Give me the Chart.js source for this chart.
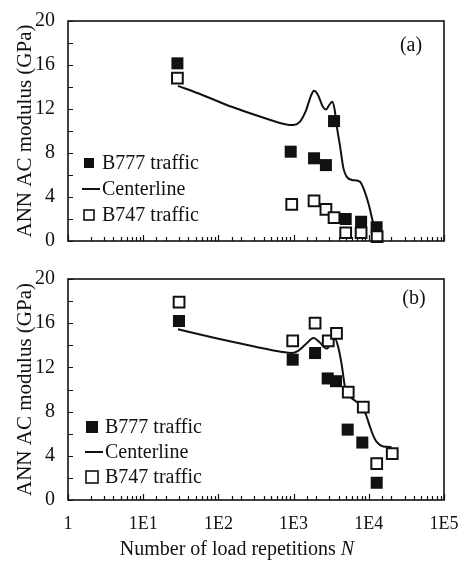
<!DOCTYPE html>
<html>
<head>
<meta charset="utf-8">
<script src="https://cdn.jsdelivr.net/npm/chart.js@4"></script>
<style>
  html, body { margin: 0; padding: 0; background: #fff; }
  #wrap { position: relative; width: 468px; height: 561px; }
  .panel { position: absolute; left: 0; }
</style>
</head>
<body>
<div id="wrap">
  <div class="panel" style="top:0"><canvas id="chart-a" width="468" height="262"></canvas></div>
  <div class="panel" style="top:262px"><canvas id="chart-b" width="468" height="299"></canvas></div>
</div>
<script>
// Panel (a)
const a777N = [28.5, 915, 1870, 2690, 3450, 4930, 7900, 12700];
const a777E = [16.15, 8.12, 7.52, 6.9, 10.9, 2.0, 1.75, 1.25];
const a747N = [28.5, 944, 1870, 2690, 3450, 4930, 7900, 12900];
const a747E = [14.8, 3.34, 3.64, 2.88, 2.12, 0.75, 0.75, 0.39];
const aLineN = [29, 60, 150, 400, 800, 1000, 1200, 1450, 1700, 1870, 2100, 2450, 2700, 3000, 3270, 3500, 3800, 4150, 4600, 5070, 6000, 7600, 8600, 10000, 11500, 12700];
const aLineE = [14.1, 13.3, 12.2, 11.2, 10.6, 10.55, 10.8, 11.8, 13.2, 13.65, 13.3, 12.2, 11.95, 12.4, 12.65, 12.0, 10.2, 8.6, 6.6, 5.85, 5.55, 5.4, 4.7, 3.3, 1.6, 0.85];

// Panel (b)
const b777N = [29.9, 973, 1930, 2840, 3660, 5240, 8200, 12740];
const b777E = [16.2, 12.7, 13.3, 11.0, 10.75, 6.37, 5.2, 1.56];
const b747N = [30, 973, 1930, 2890, 3720, 5330, 8450, 12740, 20500];
const b747E = [17.9, 14.4, 16.0, 14.4, 15.07, 9.76, 8.4, 3.3, 4.2];
const bLineN = [29, 100, 300, 700, 950, 1150, 1450, 1850, 2200, 2750, 3200, 3550, 3900, 4350, 4800, 5400, 6500, 8300, 9300, 10400, 11500, 12700, 15500, 20000];
const bLineE = [15.45, 14.6, 13.9, 13.4, 13.3, 13.5, 14.1, 14.65, 14.3, 13.7, 14.3, 14.6, 13.9, 12.3, 10.3, 9.5, 9.0, 8.4, 7.6, 6.6, 5.8, 5.25, 4.85, 4.8];

const legendLabels = ['B777 traffic', 'Centerline', 'B747 traffic'];
const yTickValues = [0, 4, 8, 12, 16, 20];

const SERIF = '"Liberation Serif", "Times New Roman", serif';
const INK = '#111';

function toPoints(xs, ys) {
    return xs.map((x, i) => ({ x, y: ys[i] }));
}

function isDecade(v) {
    const l = Math.log10(v);
    return Math.abs(l - Math.round(l)) < 1e-9;
}

// box round the plot area plus inward ticks on the bottom and left axes
const frameTicks = {
    id: 'frameTicks',
    afterDraw(chart) {
        const { ctx, chartArea: a, scales: { x, y } } = chart;
        ctx.save();
        ctx.strokeStyle = INK;
        ctx.lineWidth = 1.2;
        ctx.beginPath();
        x.ticks.forEach(t => {
            const px = Math.round(x.getPixelForValue(t.value)) + 0.5;
            const len = isDecade(t.value) ? 6 : 4;
            ctx.moveTo(px, a.bottom);
            ctx.lineTo(px, a.bottom - len);
        });
        y.ticks.forEach(t => {
            const py = Math.round(y.getPixelForValue(t.value)) + 0.5;
            ctx.moveTo(a.left, py);
            ctx.lineTo(a.left + 5, py);
        });
        ctx.stroke();
        ctx.lineWidth = 1.6;
        ctx.strokeRect(a.left, a.top, a.right - a.left, a.bottom - a.top);
        ctx.restore();
    }
};

// legend drawn inside the plot, plus the (a)/(b) tag and an optional x title
const insideLegend = {
    id: 'insideLegend',
    afterDraw(chart, args, opts) {
        const ctx = chart.ctx;
        ctx.save();
        ctx.fillStyle = INK;
        ctx.strokeStyle = INK;
        ctx.textBaseline = 'middle';
        ctx.font = '20px ' + SERIF;
        opts.order.forEach((di, i) => {
            const ds = chart.data.datasets[di];
            const cy = opts.y + i * opts.gap;
            const s = opts.box;
            if (ds.showLine) {
                ctx.lineWidth = 2;
                ctx.beginPath();
                ctx.moveTo(opts.x - 7, cy);
                ctx.lineTo(opts.x + 11, cy);
                ctx.stroke();
            } else if (ds.pointBackgroundColor === '#fff') {
                ctx.lineWidth = 1.6;
                ctx.strokeRect(opts.x - s / 2, cy - s / 2, s, s);
            } else {
                ctx.fillRect(opts.x - s / 2, cy - s / 2, s, s);
            }
            ctx.fillStyle = INK;
            ctx.textAlign = 'left';
            ctx.fillText(ds.label, opts.x + 13, cy + 1);
        });
        ctx.font = '20px ' + SERIF;
        ctx.textAlign = 'center';
        ctx.fillText(opts.tag, opts.tagX, opts.tagY);
        if (opts.xTitle) {
            const main = 'Number of load repetitions ';
            ctx.font = '20px ' + SERIF;
            const w1 = ctx.measureText(main).width;
            ctx.font = 'italic 20px ' + SERIF;
            const w2 = ctx.measureText('N').width;
            const x0 = opts.xTitleX - (w1 + w2) / 2;
            ctx.textAlign = 'left';
            ctx.font = '20px ' + SERIF;
            ctx.fillText(main, x0, opts.xTitleY);
            ctx.font = 'italic 20px ' + SERIF;
            ctx.fillText('N', x0 + w1, opts.xTitleY);
        }
        ctx.restore();
    }
};

function makePanel(id, lineN, lineE, n777, e777, n747, e747, cfg) {
    const ctx = document.getElementById(id).getContext('2d');
    return new Chart(ctx, {
        type: 'scatter',
        data: {
            datasets: [
                {
                    label: legendLabels[0],
                    data: toPoints(n777, e777),
                    pointStyle: 'rect',
                    pointRadius: 8.5,
                    pointBackgroundColor: INK,
                    pointBorderColor: INK,
                    pointBorderWidth: 0,
                    showLine: false,
                    clip: false,
                    order: 2
                },
                {
                    label: legendLabels[1],
                    data: toPoints(lineN, lineE),
                    showLine: true,
                    borderColor: INK,
                    borderWidth: 2,
                    pointRadius: 0,
                    cubicInterpolationMode: 'monotone',
                    clip: false,
                    order: 3
                },
                {
                    label: legendLabels[2],
                    data: toPoints(n747, e747),
                    pointStyle: 'rect',
                    pointRadius: 7.6,
                    pointBackgroundColor: '#fff',
                    pointBorderColor: INK,
                    pointBorderWidth: 2,
                    showLine: false,
                    clip: false,
                    order: 1
                }
            ]
        },
        options: {
            responsive: false,
            animation: false,
            devicePixelRatio: 1,
            layout: { padding: { top: cfg.padTop, right: 24, bottom: 0, left: 0 } },
            plugins: {
                legend: { display: false },
                tooltip: { enabled: false },
                insideLegend: cfg.legend
            },
            scales: {
                x: {
                    type: 'logarithmic',
                    min: 1,
                    max: 100000,
                    grid: { display: false },
                    border: { display: false },
                    afterFit: s => { s.height = cfg.xHeight; },
                    ticks: {
                        display: cfg.xLabels,
                        autoSkip: false,
                        maxRotation: 0,
                        padding: 5,
                        color: INK,
                        font: { family: SERIF, size: 18 },
                        callback: v => {
                            if (!isDecade(v)) return '';
                            const p = Math.round(Math.log10(v));
                            return p === 0 ? '1' : '1E' + p;
                        }
                    }
                },
                y: {
                    min: 0,
                    max: 20,
                    grid: { display: false },
                    border: { display: false },
                    afterFit: s => { s.width = 68; },
                    ticks: {
                        stepSize: 2,
                        autoSkip: false,
                        padding: 5,
                        color: INK,
                        font: { family: SERIF, size: 20 },
                        callback: v => (yTickValues.includes(v) ? String(v) : '')
                    },
                    title: {
                        display: true,
                        text: 'ANN AC modulus (GPa)',
                        color: INK,
                        font: { family: SERIF, size: 21 },
                        padding: { top: 13, bottom: 0 }
                    }
                }
            }
        },
        plugins: [frameTicks, insideLegend]
    });
}

document.addEventListener('DOMContentLoaded', () => {
    makePanel('chart-a', aLineN, aLineE, a777N, a777E, a747N, a747E, {
        padTop: 21,
        xHeight: 21,
        xLabels: false,
        legend: { order: [0, 1, 2], x: 89, y: 163, gap: 26, box: 10, tag: '(a)', tagX: 411, tagY: 46 }
    });
    makePanel('chart-b', bLineN, bLineE, b777N, b777E, b747N, b747E, {
        padTop: 14,
        xHeight: 61,
        xLabels: true,
        legend: {
            order: [0, 1, 2], x: 92, y: 165, gap: 25, box: 12, tag: '(b)', tagX: 414, tagY: 37,
            xTitle: true, xTitleX: 237, xTitleY: 288
        }
    });
});
</script>
</body>
</html>
